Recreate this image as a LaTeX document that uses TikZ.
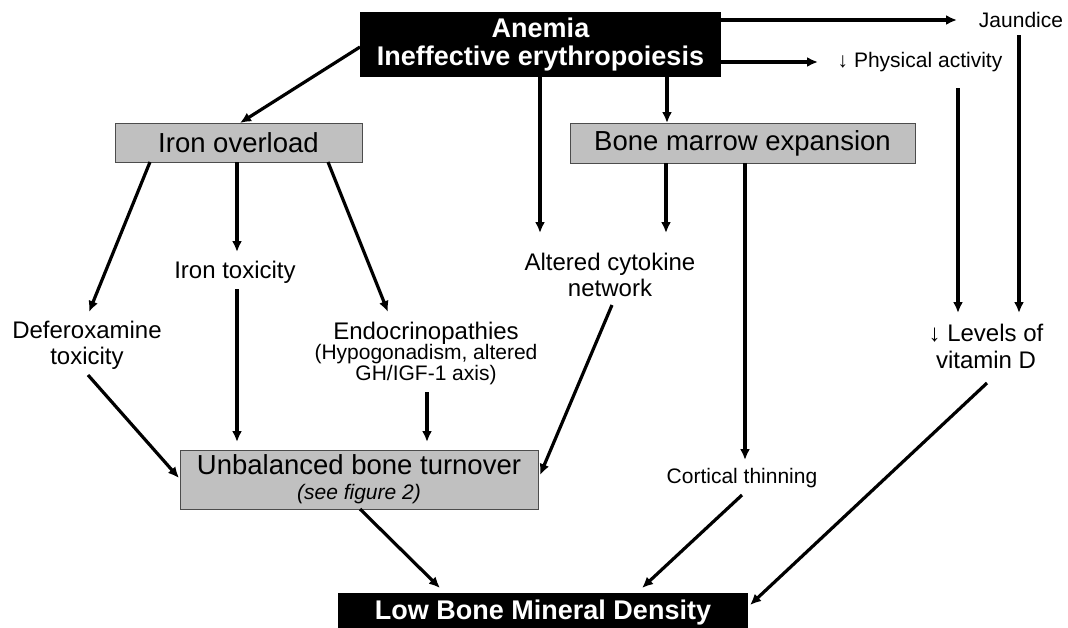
\documentclass[tikz,border=0pt]{standalone}
\usepackage{fontspec}
\setmainfont{Liberation Sans}
\usetikzlibrary{arrows.meta,calc}
\definecolor{boxgray}{RGB}{192,192,192}
\begin{document}
\begin{tikzpicture}[x=1pt,y=-1pt,
  arr/.style={line width=3.2pt,-{Latex[length=11pt,width=10pt]}},
  blackbox/.style={fill=black,text=white,inner sep=0pt,font={\fontsize{27}{28}\selectfont\bfseries},align=center},
  graybox/.style={fill=boxgray,draw=black!70,line width=1pt,inner sep=0pt,font={\fontsize{27.5}{28}\selectfont},align=center},
  mid/.style={inner sep=0pt,align=center,font={\fontsize{24}{26}\selectfont}},
  small/.style={inner sep=0pt,align=center,font={\fontsize{21}{23}\selectfont}}]
\path[use as bounding box,fill=white] (0,0) rectangle (1068,627);

\node[blackbox,minimum width=361pt,minimum height=65pt] (top) at (540.5,44.5) {Anemia\\Ineffective erythropoiesis};
\node[graybox,minimum width=247pt,minimum height=39pt] (iron) at (238.5,142.5) {Iron overload};
\node[graybox,minimum width=345pt,minimum height=40pt] (bm) at (742.5,143) {Bone marrow expansion};
\node[graybox,minimum width=358pt,minimum height=59pt] (unb) at (359,479.5) {Unbalanced bone turnover\\[-3pt]{\fontsize{21}{22}\selectfont\itshape (see figure 2)}};
\node[blackbox,minimum width=410pt,minimum height=40pt] (low) at (543,613) {Low Bone Mineral Density};

\node[small] (jaun) at (1021,20) {Jaundice};
\node[small] (phys) at (920,62) {↓ Physical activity};
\node[mid] (tox) at (235,272) {Iron toxicity};
\node[mid] (def) at (87,345) {Deferoxamine\\toxicity};
\node[inner sep=0pt,align=center] (endo) at (426,353.5) {{\fontsize{24}{24}\selectfont Endocrinopathies}\\[-1pt]{\fontsize{21}{23}\selectfont (Hypogonadism, altered}\\{\fontsize{21}{23}\selectfont GH/IGF-1 axis)}};
\node[mid] (cyt) at (610,274.5) {Altered cytokine\\network};
\node[small] (cort) at (742,478) {Cortical thinning};
\node[inner sep=0pt,align=center,font={\fontsize{24}{27}\selectfont}] (vitD) at (986,346.5) {↓ Levels of\\vitamin D};

\draw[arr] ($(top)+(-180.5,2.5)$) -- ($(iron)+(1.5,-19.5)$);
\draw[arr] ($(top)+(-0.5,32.5)$) -- ($(cyt)+(-70,-41.5)$);
\draw[arr] ($(top)+(126.5,32.5)$) -- ($(bm)+(-75.5,-20)$);
\draw[arr] ($(top)+(180.5,-24.5)$) -- ($(jaun)+(-64,0)$);
\draw[arr] ($(top)+(180.5,17.5)$) -- ($(phys)+(-102,0)$);
\draw[arr] ($(phys)+(38,26)$) -- ($(vitD)+(-28,-33.5)$);
\draw[arr] ($(jaun)+(-2,15)$) -- ($(vitD)+(33,-33.5)$);
\draw[arr] ($(iron)+(-88.5,19.5)$) -- ($(def)+(2,-33)$);
\draw[arr] ($(iron)+(-1.5,19.5)$) -- ($(tox)+(2,-20)$);
\draw[arr] ($(iron)+(89.5,19.5)$) -- ($(endo)+(-38,-41.5)$);
\draw[arr] ($(bm)+(-76.5,20)$) -- ($(cyt)+(56,-41.5)$);
\draw[arr] ($(bm)+(2.5,20)$) -- ($(cort)+(3,-18)$);
\draw[arr] ($(def)+(1,30)$) -- ($(unb)+(-180,-1.5)$);
\draw[arr] ($(tox)+(2,17)$) -- ($(unb)+(-122,-37.5)$);
\draw[arr] ($(endo)+(1,38.5)$) -- ($(unb)+(68,-37.5)$);
\draw[arr] ($(cyt)+(2,30.5)$) -- ($(unb)+(181,-4.5)$);
\draw[arr] ($(unb)+(1,29.5)$) -- ($(low)+(-103,-25)$);
\draw[arr] ($(cort)+(0,17)$) -- ($(low)+(99,-25)$);
\draw[arr] ($(vitD)+(1,36.5)$) -- ($(low)+(207,-8)$);
\end{tikzpicture}
\end{document}
